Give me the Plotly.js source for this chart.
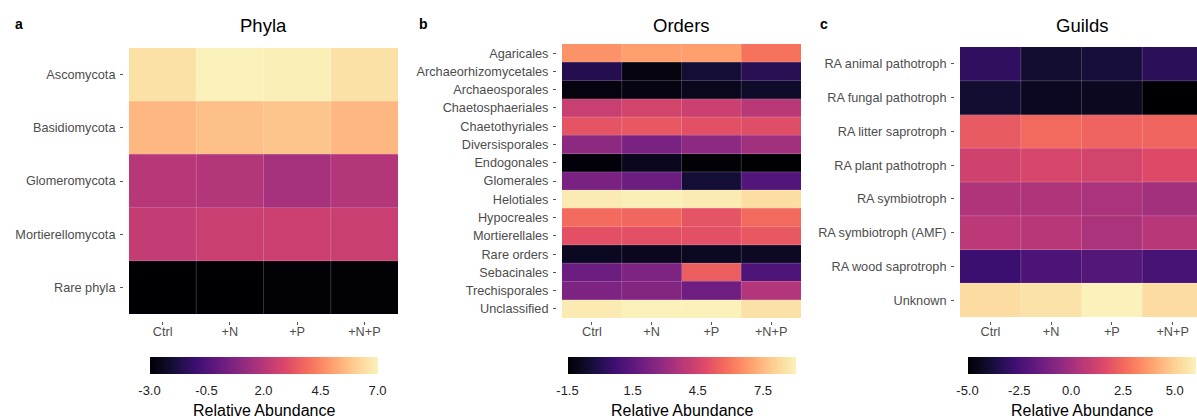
<!DOCTYPE html>
<html>
<head>
<meta charset="utf-8">
<script src="https://cdn.plot.ly/plotly-3.0.1.min.js"></script>
<style>
  html, body { margin: 0; padding: 0; overflow: hidden; background: #fff; }
  #chart { width: 1205px; height: 418px; }
</style>
</head>
<body>
<div id="chart"></div>
<script>
// Treatments (columns shared by all three panels)
const treatments = ['Ctrl', '+N', '+P', '+N+P'];

// Panel a: phyla
const phyla = ['Ascomycota', 'Basidiomycota', 'Glomeromycota', 'Mortierellomycota', 'Rare phyla'];
const phylaValues = [
  [6.5, 7.0, 6.9, 6.5],
  [5.5, 5.7, 5.8, 5.5],
  [2.0, 1.9, 1.6, 1.9],
  [2.3, 2.45, 2.5, 2.45],
  [-3.0, -3.0, -2.95, -2.95]
];
const phylaTicks = [-3.0, -0.5, 2.0, 4.5, 7.0];

// Panel b: orders
const orders = ['Agaricales', 'Archaeorhizomycetales', 'Archaeosporales', 'Chaetosphaeriales',
  'Chaetothyriales', 'Diversisporales', 'Endogonales', 'Glomerales', 'Helotiales', 'Hypocreales',
  'Mortierellales', 'Rare orders', 'Sebacinales', 'Trechisporales', 'Unclassified'];
const orderValues = [
  [6.6, 6.9, 6.9, 5.9],
  [0.0, -1.3, -0.45, 0.1],
  [-1.3, -1.2, -1.0, -0.7],
  [4.2, 4.5, 4.3, 3.8],
  [5.1, 5.2, 5.0, 4.9],
  [2.7, 2.2, 2.7, 3.2],
  [-1.4, -1.0, -1.45, -1.5],
  [2.2, 1.85, -0.45, 1.2],
  [8.8, 8.9, 8.8, 8.4],
  [5.7, 5.6, 5.1, 5.65],
  [5.0, 5.0, 5.0, 5.2],
  [-0.9, -0.95, -0.9, -0.8],
  [1.85, 2.3, 5.4, 1.1],
  [2.3, 2.4, 1.9, 3.65],
  [8.8, 9.0, 9.0, 8.5]
];
const orderTicks = [-1.5, 1.5, 4.5, 7.5];

// Panel c: guilds
const guilds = ['RA animal pathotroph', 'RA fungal pathotroph', 'RA litter saprotroph',
  'RA plant pathotroph', 'RA symbiotroph', 'RA symbiotroph (AMF)', 'RA wood saprotroph', 'Unknown'];
const guildValues = [
  [-3.1, -4.0, -3.8, -3.25],
  [-4.0, -4.35, -4.4, -5.0],
  [2.1, 2.5, 2.35, 2.4],
  [1.2, 1.4, 1.3, 1.6],
  [0.3, 0.3, 0.2, -0.05],
  [0.6, 0.5, 0.2, 0.5],
  [-2.8, -2.35, -2.15, -2.5],
  [5.3, 5.5, 6.0, 5.3]
];
const guildTicks = [-5.0, -2.5, 0.0, 2.5, 5.0];

const panelTitles = ['Phyla', 'Orders', 'Guilds'];
const panelLetters = ['a', 'b', 'c'];
const legendTitle = 'Relative Abundance';

// Magma colour ramp (light end slightly softened)
const magma = [
  [0.0, '#000004'], [0.1, '#140e36'], [0.2, '#3b0f70'], [0.3, '#641a80'],
  [0.4, '#8c2981'], [0.5, '#b73779'], [0.6, '#de4968'], [0.7, '#f7705c'],
  [0.8, '#fe9f6d'], [0.9, '#fdcf92'], [1.0, '#faf2ba']
];

const W = 1205, H = 418;
const FONT = 'Liberation Sans, Arial, Helvetica, sans-serif';
const fx = px => px / W;
const fy = px => 1 - px / H;

// Geometry of each panel in pixels: tile area left/right/top/bottom
const panels = [
  { rows: phyla, z: phylaValues, ticks: phylaTicks, l: 129, r: 398, t: 48, b: 314 },
  { rows: orders, z: orderValues, ticks: orderTicks, l: 562, r: 801, t: 44, b: 318 },
  { rows: guilds, z: guildValues, ticks: guildTicks, l: 960, r: 1203, t: 47, b: 317 }
];
const BAR_LEN = 228, BAR_TOP = 357, BAR_BOTTOM = 374;

const data = [];
const layout = {
  width: W, height: H,
  margin: { l: 0, r: 0, t: 0, b: 0 },
  paper_bgcolor: '#ffffff', plot_bgcolor: '#ffffff',
  showlegend: false,
  font: { family: FONT },
  annotations: [], shapes: []
};

panels.forEach((p, i) => {
  const sfx = i === 0 ? '' : String(i + 1);
  const flat = p.z.flat();
  const cmin = Math.min(...flat), cmax = Math.max(...flat);
  const center = (p.l + p.r) / 2;

  data.push({
    type: 'heatmap',
    x: treatments, y: p.rows, z: p.z,
    xaxis: 'x' + sfx, yaxis: 'y' + sfx,
    coloraxis: 'coloraxis' + sfx,
    hoverongaps: false
  });

  layout['coloraxis' + sfx] = {
    colorscale: magma, cmin: cmin, cmax: cmax,
    colorbar: {
      orientation: 'h', x: fx(center), xanchor: 'center',
      y: fy(BAR_TOP), yanchor: 'top',
      len: BAR_LEN, lenmode: 'pixels', thickness: BAR_BOTTOM - BAR_TOP, thicknessmode: 'pixels',
      xpad: 0, ypad: 0, outlinewidth: 0,
      tickmode: 'array', tickvals: p.ticks, ticktext: p.ticks.map(v => v.toFixed(1)),
      ticks: 'outside', ticklen: 6, tickwidth: 1, tickcolor: 'rgba(0,0,0,0)',
      tickfont: { family: FONT, size: 13, color: '#222222' }
    }
  };

  // white break marks along both edges of the colour bar
  p.ticks.forEach(v => {
    const xp = fx(center - BAR_LEN / 2 + (v - cmin) / (cmax - cmin) * BAR_LEN);
    [[BAR_TOP, BAR_TOP + 3.5], [BAR_BOTTOM - 3.5, BAR_BOTTOM]].forEach(([a, b]) => {
      layout.shapes.push({
        type: 'line', xref: 'paper', yref: 'paper',
        x0: xp, x1: xp, y0: fy(a), y1: fy(b),
        line: { color: 'rgba(255,255,255,0.75)', width: 1 }, layer: 'above'
      });
    });
  });

  layout['xaxis' + sfx] = {
    domain: [fx(p.l), fx(p.r)], anchor: 'free', position: fy(321),
    type: 'category', categoryorder: 'array', categoryarray: treatments,
    ticks: 'outside', ticklen: 3, tickwidth: 1, tickcolor: '#555555',
    showgrid: false, zeroline: false, showline: false, ticklabelstandoff: -4,
    tickfont: { family: FONT, size: 12.7, color: '#4d4d4d' }, fixedrange: true
  };
  layout['yaxis' + sfx] = {
    domain: [fy(p.b), fy(p.t)], anchor: 'free', position: fx(p.l - 6),
    type: 'category', autorange: 'reversed',
    ticks: 'outside', ticklen: 3, tickwidth: 1, tickcolor: '#555555',
    showgrid: false, zeroline: false, showline: false, ticklabelstandoff: 2,
    tickfont: { family: FONT, size: 12.7, color: '#4d4d4d' }, fixedrange: true
  };

  // faint tile borders
  for (let c = 0; c < treatments.length - 1; c++) {
    layout.shapes.push({
      type: 'line', xref: 'x' + sfx, yref: 'y' + sfx + ' domain',
      x0: c + 0.5, x1: c + 0.5, y0: 0, y1: 1,
      line: { color: 'rgba(255,255,255,0.2)', width: 1 }, layer: 'above'
    });
  }
  for (let r = 0; r < p.rows.length - 1; r++) {
    layout.shapes.push({
      type: 'line', xref: 'x' + sfx + ' domain', yref: 'y' + sfx,
      x0: 0, x1: 1, y0: r + 0.5, y1: r + 0.5,
      line: { color: 'rgba(255,255,255,0.2)', width: 1 }, layer: 'above'
    });
  }

  // panel title, letter, legend title
  layout.annotations.push({
    text: panelTitles[i], xref: 'paper', yref: 'paper',
    x: fx(center), y: fy(25), xanchor: 'center', yanchor: 'middle',
    showarrow: false, font: { family: FONT, size: 18.5, color: '#000000' }
  });
  layout.annotations.push({
    text: '<b>' + panelLetters[i] + '</b>', xref: 'paper', yref: 'paper',
    x: fx([13, 417, 818][i]), y: fy(24), xanchor: 'left', yanchor: 'middle',
    showarrow: false, font: { family: FONT, size: 14, color: '#000000' }
  });
  layout.annotations.push({
    text: legendTitle, xref: 'paper', yref: 'paper',
    x: fx(center), y: fy(410), xanchor: 'center', yanchor: 'middle',
    showarrow: false, font: { family: FONT, size: 16, color: '#000000' }
  });
});

Plotly.newPlot('chart', data, layout, { displayModeBar: false, staticPlot: true });
</script>
</body>
</html>
